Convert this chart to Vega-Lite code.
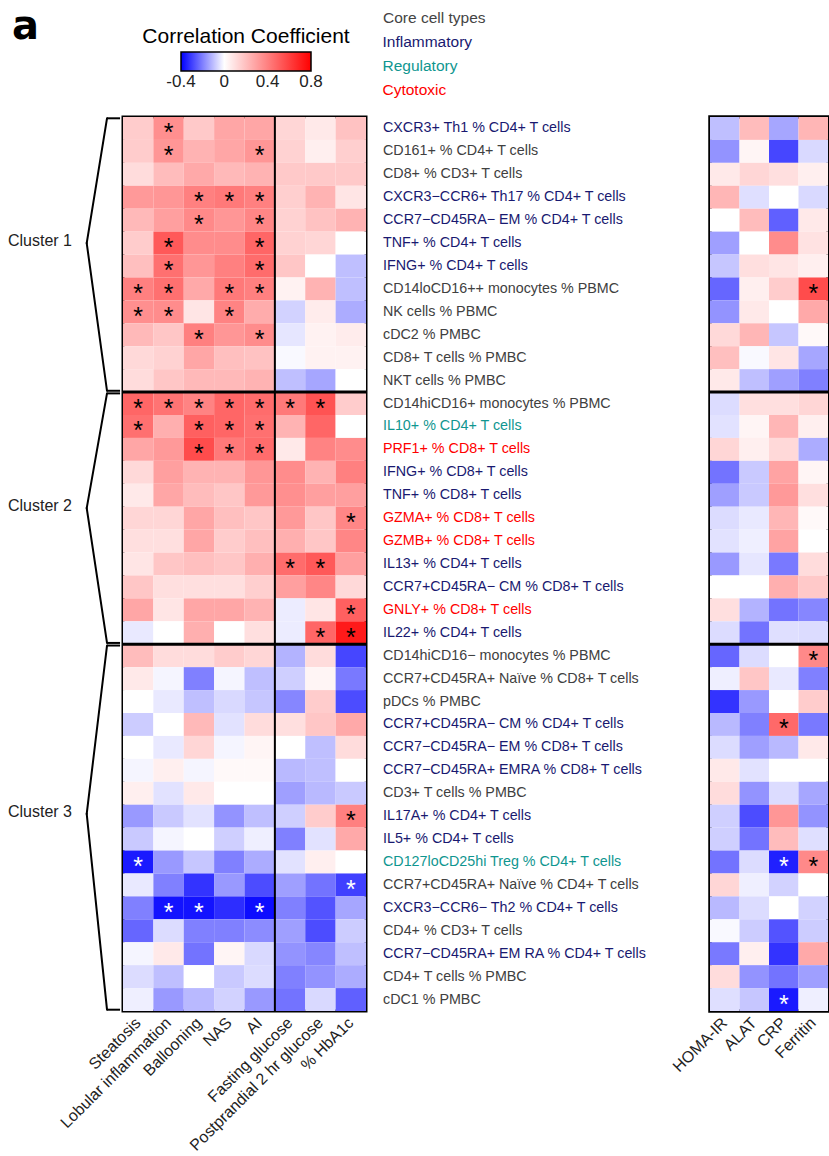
{
"$schema": "https://vega.github.io/schema/vega-lite/v6.json",
"background": "white",
"padding": {"left": 0, "top": 7, "right": 0, "bottom": 0},
"bounds": "flush",
"spacing": 0,
"config": {"font": "Liberation Sans", "view": {"stroke": null}, "legend": {"padding": 0}},
"datasets": {
"rows": [
{"i":1,"label":"CXCR3+ Th1 % CD4+ T cells","type":"Inflammatory","Steatosis":0.16,"Lobular inflammation":0.35,"Ballooning":0.17,"NAS":0.28,"AI":0.28,"Fasting glucose":0.13,"Postprandial 2 hr glucose":0.07,"% HbA1c":0.19,"HOMA-IR":-0.1,"ALAT":0.21,"CRP":-0.14,"Ferritin":0.23,"sig":["Lobular inflammation"]},
{"i":2,"label":"CD161+ % CD4+ T  cells","type":"Other","Steatosis":0.16,"Lobular inflammation":0.33,"Ballooning":0.24,"NAS":0.28,"AI":0.33,"Fasting glucose":0.14,"Postprandial 2 hr glucose":0.05,"% HbA1c":0.15,"HOMA-IR":-0.17,"ALAT":0.03,"CRP":-0.29,"Ferritin":-0.06,"sig":["Lobular inflammation","AI"]},
{"i":3,"label":"CD8+ % CD3+ T cells","type":"Other","Steatosis":0.11,"Lobular inflammation":0.21,"Ballooning":0.27,"NAS":0.22,"AI":0.24,"Fasting glucose":0.17,"Postprandial 2 hr glucose":0.17,"% HbA1c":0.17,"HOMA-IR":0.07,"ALAT":0.13,"CRP":0.1,"Ferritin":0.05,"sig":[]},
{"i":4,"label":"CXCR3−CCR6+ Th17 % CD4+ T cells","type":"Inflammatory","Steatosis":0.32,"Lobular inflammation":0.33,"Ballooning":0.4,"NAS":0.42,"AI":0.4,"Fasting glucose":0.15,"Postprandial 2 hr glucose":0.24,"% HbA1c":0.08,"HOMA-IR":0.23,"ALAT":-0.05,"CRP":0.0,"Ferritin":-0.06,"sig":["Ballooning","NAS","AI"]},
{"i":5,"label":"CCR7−CD45RA− EM % CD4+ T cells","type":"Inflammatory","Steatosis":0.22,"Lobular inflammation":0.3,"Ballooning":0.37,"NAS":0.33,"AI":0.38,"Fasting glucose":0.14,"Postprandial 2 hr glucose":0.19,"% HbA1c":0.24,"HOMA-IR":0.0,"ALAT":0.21,"CRP":-0.25,"Ferritin":0.07,"sig":["Ballooning","AI"]},
{"i":6,"label":"TNF+ % CD4+ T cells","type":"Inflammatory","Steatosis":0.16,"Lobular inflammation":0.52,"Ballooning":0.36,"NAS":0.36,"AI":0.48,"Fasting glucose":0.14,"Postprandial 2 hr glucose":0.13,"% HbA1c":0.0,"HOMA-IR":-0.15,"ALAT":0.0,"CRP":0.36,"Ferritin":0.09,"sig":["Lobular inflammation","AI"]},
{"i":7,"label":"IFNG+ % CD4+ T cells","type":"Inflammatory","Steatosis":0.2,"Lobular inflammation":0.45,"Ballooning":0.33,"NAS":0.4,"AI":0.46,"Fasting glucose":0.18,"Postprandial 2 hr glucose":0.0,"% HbA1c":-0.1,"HOMA-IR":-0.09,"ALAT":0.1,"CRP":0.08,"Ferritin":0.05,"sig":["Lobular inflammation","AI"]},
{"i":8,"label":"CD14loCD16++ monocytes % PBMC","type":"Other","Steatosis":0.4,"Lobular inflammation":0.45,"Ballooning":0.27,"NAS":0.42,"AI":0.4,"Fasting glucose":0.04,"Postprandial 2 hr glucose":0.24,"% HbA1c":-0.1,"HOMA-IR":-0.24,"ALAT":0.05,"CRP":0.16,"Ferritin":0.56,"sig":["Steatosis","Lobular inflammation","NAS","AI","Ferritin"]},
{"i":9,"label":"NK cells % PBMC","type":"Other","Steatosis":0.35,"Lobular inflammation":0.36,"Ballooning":0.08,"NAS":0.39,"AI":0.26,"Fasting glucose":-0.07,"Postprandial 2 hr glucose":0.06,"% HbA1c":-0.13,"HOMA-IR":-0.17,"ALAT":0.07,"CRP":0.0,"Ferritin":0.27,"sig":["Steatosis","Lobular inflammation","NAS"]},
{"i":10,"label":"cDC2 % PMBC","type":"Other","Steatosis":0.22,"Lobular inflammation":0.18,"Ballooning":0.4,"NAS":0.33,"AI":0.36,"Fasting glucose":-0.04,"Postprandial 2 hr glucose":0.04,"% HbA1c":0.06,"HOMA-IR":0.12,"ALAT":0.23,"CRP":-0.09,"Ferritin":0.02,"sig":["Ballooning","AI"]},
{"i":11,"label":"CD8+ T cells % PMBC","type":"Other","Steatosis":0.12,"Lobular inflammation":0.14,"Ballooning":0.28,"NAS":0.2,"AI":0.19,"Fasting glucose":-0.01,"Postprandial 2 hr glucose":0.04,"% HbA1c":0.04,"HOMA-IR":0.2,"ALAT":-0.01,"CRP":0.08,"Ferritin":-0.14,"sig":[]},
{"i":12,"label":"NKT cells % PMBC","type":"Other","Steatosis":0.11,"Lobular inflammation":0.18,"Ballooning":0.22,"NAS":0.22,"AI":0.24,"Fasting glucose":-0.1,"Postprandial 2 hr glucose":-0.14,"% HbA1c":0.0,"HOMA-IR":0.07,"ALAT":-0.1,"CRP":-0.15,"Ferritin":-0.2,"sig":[]},
{"i":13,"label":"CD14hiCD16+ monocytes % PBMC","type":"Other","Steatosis":0.48,"Lobular inflammation":0.44,"Ballooning":0.39,"NAS":0.48,"AI":0.46,"Fasting glucose":0.42,"Postprandial 2 hr glucose":0.54,"% HbA1c":0.16,"HOMA-IR":-0.055,"ALAT":0.1,"CRP":0.1,"Ferritin":0.13,"sig":["Steatosis","Lobular inflammation","Ballooning","NAS","AI","Fasting glucose","Postprandial 2 hr glucose"]},
{"i":14,"label":"IL10+ % CD4+ T cells","type":"Regulatory","Steatosis":0.45,"Lobular inflammation":0.25,"Ballooning":0.5,"NAS":0.48,"AI":0.45,"Fasting glucose":0.24,"Postprandial 2 hr glucose":0.48,"% HbA1c":0.0,"HOMA-IR":-0.045,"ALAT":0.03,"CRP":0.23,"Ferritin":0.05,"sig":["Steatosis","Ballooning","NAS","AI"]},
{"i":15,"label":"PRF1+ % CD8+ T cells","type":"Cytotoxic","Steatosis":0.28,"Lobular inflammation":0.32,"Ballooning":0.56,"NAS":0.42,"AI":0.46,"Fasting glucose":0.07,"Postprandial 2 hr glucose":0.39,"% HbA1c":0.36,"HOMA-IR":0.13,"ALAT":0.05,"CRP":0.12,"Ferritin":-0.13,"sig":["Ballooning","NAS","AI"]},
{"i":16,"label":"IFNG+ % CD8+ T cells","type":"Inflammatory","Steatosis":0.12,"Lobular inflammation":0.3,"Ballooning":0.24,"NAS":0.24,"AI":0.33,"Fasting glucose":0.36,"Postprandial 2 hr glucose":0.24,"% HbA1c":0.4,"HOMA-IR":-0.22,"ALAT":-0.085,"CRP":0.29,"Ferritin":0.03,"sig":[]},
{"i":17,"label":"TNF+ % CD8+ T cells","type":"Inflammatory","Steatosis":0.07,"Lobular inflammation":0.28,"Ballooning":0.21,"NAS":0.18,"AI":0.32,"Fasting glucose":0.35,"Postprandial 2 hr glucose":0.3,"% HbA1c":0.3,"HOMA-IR":-0.15,"ALAT":-0.085,"CRP":0.32,"Ferritin":0.1,"sig":[]},
{"i":18,"label":"GZMA+ % CD8+ T cells","type":"Cytotoxic","Steatosis":0.13,"Lobular inflammation":0.13,"Ballooning":0.28,"NAS":0.2,"AI":0.18,"Fasting glucose":0.32,"Postprandial 2 hr glucose":0.18,"% HbA1c":0.38,"HOMA-IR":-0.055,"ALAT":-0.035,"CRP":0.23,"Ferritin":0.02,"sig":["% HbA1c"]},
{"i":19,"label":"GZMB+ % CD8+ T cells","type":"Cytotoxic","Steatosis":0.1,"Lobular inflammation":0.1,"Ballooning":0.28,"NAS":0.16,"AI":0.2,"Fasting glucose":0.25,"Postprandial 2 hr glucose":0.18,"% HbA1c":0.38,"HOMA-IR":-0.045,"ALAT":-0.025,"CRP":0.29,"Ferritin":0.0,"sig":[]},
{"i":20,"label":"IL13+ % CD4+ T cells","type":"Inflammatory","Steatosis":0.08,"Lobular inflammation":0.18,"Ballooning":0.2,"NAS":0.18,"AI":0.25,"Fasting glucose":0.46,"Postprandial 2 hr glucose":0.52,"% HbA1c":0.3,"HOMA-IR":-0.16,"ALAT":-0.04,"CRP":-0.21,"Ferritin":0.11,"sig":["Fasting glucose","Postprandial 2 hr glucose"]},
{"i":21,"label":"CCR7+CD45RA− CM % CD8+ T cells","type":"Inflammatory","Steatosis":0.18,"Lobular inflammation":0.1,"Ballooning":0.1,"NAS":0.1,"AI":0.15,"Fasting glucose":0.3,"Postprandial 2 hr glucose":0.38,"% HbA1c":0.12,"HOMA-IR":0.0,"ALAT":0.0,"CRP":0.25,"Ferritin":0.17,"sig":[]},
{"i":22,"label":"GNLY+ % CD8+ T cells","type":"Cytotoxic","Steatosis":0.28,"Lobular inflammation":0.08,"Ballooning":0.28,"NAS":0.28,"AI":0.24,"Fasting glucose":-0.03,"Postprandial 2 hr glucose":0.08,"% HbA1c":0.5,"HOMA-IR":0.1,"ALAT":-0.12,"CRP":-0.22,"Ferritin":-0.19,"sig":["% HbA1c"]},
{"i":23,"label":"IL22+ % CD4+ T cells","type":"Inflammatory","Steatosis":-0.035,"Lobular inflammation":0.0,"Ballooning":0.25,"NAS":0.0,"AI":0.1,"Fasting glucose":-0.03,"Postprandial 2 hr glucose":0.48,"% HbA1c":0.72,"HOMA-IR":-0.055,"ALAT":-0.22,"CRP":-0.05,"Ferritin":-0.055,"sig":["Postprandial 2 hr glucose","% HbA1c"]},
{"i":24,"label":"CD14hiCD16− monocytes % PBMC","type":"Other","Steatosis":0.21,"Lobular inflammation":0.11,"Ballooning":0.11,"NAS":0.16,"AI":0.13,"Fasting glucose":-0.12,"Postprandial 2 hr glucose":0.11,"% HbA1c":-0.29,"HOMA-IR":-0.24,"ALAT":-0.055,"CRP":0.0,"Ferritin":0.37,"sig":["Ferritin"]},
{"i":25,"label":"CCR7+CD45RA+ Naïve % CD8+ T cells","type":"Other","Steatosis":0.07,"Lobular inflammation":-0.015,"Ballooning":-0.2,"NAS":-0.015,"AI":-0.1,"Fasting glucose":-0.075,"Postprandial 2 hr glucose":0.03,"% HbA1c":-0.21,"HOMA-IR":-0.025,"ALAT":0.18,"CRP":-0.035,"Ferritin":-0.2,"sig":[]},
{"i":26,"label":"pDCs % PMBC","type":"Other","Steatosis":0.0,"Lobular inflammation":-0.035,"Ballooning":-0.1,"NAS":-0.06,"AI":-0.09,"Fasting glucose":-0.19,"Postprandial 2 hr glucose":0.16,"% HbA1c":-0.28,"HOMA-IR":-0.32,"ALAT":-0.16,"CRP":0.0,"Ferritin":0.16,"sig":[]},
{"i":27,"label":"CCR7+CD45RA− CM % CD4+ T cells","type":"Inflammatory","Steatosis":-0.08,"Lobular inflammation":0.0,"Ballooning":0.22,"NAS":-0.045,"AI":0.11,"Fasting glucose":0.1,"Postprandial 2 hr glucose":0.18,"% HbA1c":0.27,"HOMA-IR":-0.11,"ALAT":-0.2,"CRP":0.47,"Ferritin":-0.21,"sig":["CRP"]},
{"i":28,"label":"CCR7−CD45RA− EM % CD8+ T cells","type":"Inflammatory","Steatosis":0.0,"Lobular inflammation":-0.035,"Ballooning":0.13,"NAS":-0.015,"AI":0.03,"Fasting glucose":0.0,"Postprandial 2 hr glucose":-0.1,"% HbA1c":0.11,"HOMA-IR":-0.055,"ALAT":-0.15,"CRP":-0.11,"Ferritin":0.07,"sig":[]},
{"i":29,"label":"CCR7−CD45RA+ EMRA % CD8+ T cells","type":"Inflammatory","Steatosis":-0.015,"Lobular inflammation":0.05,"Ballooning":-0.015,"NAS":0.02,"AI":0.02,"Fasting glucose":-0.11,"Postprandial 2 hr glucose":-0.1,"% HbA1c":0.0,"HOMA-IR":0.07,"ALAT":-0.045,"CRP":0.0,"Ferritin":0.0,"sig":[]},
{"i":30,"label":"CD3+ T cells % PMBC","type":"Other","Steatosis":0.05,"Lobular inflammation":-0.045,"Ballooning":0.07,"NAS":0.0,"AI":0.0,"Fasting glucose":-0.15,"Postprandial 2 hr glucose":-0.11,"% HbA1c":-0.085,"HOMA-IR":0.11,"ALAT":-0.17,"CRP":-0.055,"Ferritin":-0.14,"sig":[]},
{"i":31,"label":"IL17A+ % CD4+ T cells","type":"Inflammatory","Steatosis":-0.16,"Lobular inflammation":-0.085,"Ballooning":-0.045,"NAS":-0.17,"AI":-0.1,"Fasting glucose":-0.075,"Postprandial 2 hr glucose":0.16,"% HbA1c":0.4,"HOMA-IR":-0.075,"ALAT":-0.28,"CRP":0.33,"Ferritin":-0.17,"sig":["% HbA1c"]},
{"i":32,"label":"IL5+ % CD4+ T cells","type":"Inflammatory","Steatosis":-0.085,"Lobular inflammation":-0.015,"Ballooning":0.0,"NAS":-0.075,"AI":-0.025,"Fasting glucose":-0.2,"Postprandial 2 hr glucose":-0.045,"% HbA1c":0.27,"HOMA-IR":-0.075,"ALAT":-0.22,"CRP":0.21,"Ferritin":-0.05,"sig":[]},
{"i":33,"label":"CD127loCD25hi Treg % CD4+ T cells","type":"Regulatory","Steatosis":-0.36,"Lobular inflammation":-0.16,"Ballooning":-0.09,"NAS":-0.2,"AI":-0.13,"Fasting glucose":-0.045,"Postprandial 2 hr glucose":0.05,"% HbA1c":0.0,"HOMA-IR":-0.22,"ALAT":-0.055,"CRP":-0.35,"Ferritin":0.37,"sig":["Steatosis","CRP","Ferritin"]},
{"i":34,"label":"CCR7+CD45RA+ Naïve % CD4+ T cells","type":"Other","Steatosis":-0.035,"Lobular inflammation":-0.2,"Ballooning":-0.32,"NAS":-0.16,"AI":-0.28,"Fasting glucose":-0.15,"Postprandial 2 hr glucose":-0.22,"% HbA1c":-0.3,"HOMA-IR":0.13,"ALAT":-0.025,"CRP":-0.07,"Ferritin":0.0,"sig":["% HbA1c"]},
{"i":35,"label":"CXCR3−CCR6− Th2 % CD4+ T cells","type":"Inflammatory","Steatosis":-0.2,"Lobular inflammation":-0.37,"Ballooning":-0.37,"NAS":-0.33,"AI":-0.38,"Fasting glucose":-0.2,"Postprandial 2 hr glucose":-0.27,"% HbA1c":-0.14,"HOMA-IR":-0.11,"ALAT":-0.055,"CRP":0.0,"Ferritin":-0.07,"sig":["Lobular inflammation","Ballooning","AI"]},
{"i":36,"label":"CD4+ % CD3+ T cells","type":"Other","Steatosis":-0.24,"Lobular inflammation":-0.055,"Ballooning":-0.2,"NAS":-0.2,"AI":-0.18,"Fasting glucose":-0.15,"Postprandial 2 hr glucose":-0.28,"% HbA1c":-0.08,"HOMA-IR":-0.01,"ALAT":-0.08,"CRP":-0.27,"Ferritin":-0.08,"sig":[]},
{"i":37,"label":"CCR7−CD45RA+ EM RA % CD4+ T cells","type":"Inflammatory","Steatosis":-0.015,"Lobular inflammation":0.07,"Ballooning":-0.22,"NAS":0.03,"AI":-0.06,"Fasting glucose":-0.17,"Postprandial 2 hr glucose":-0.19,"% HbA1c":-0.1,"HOMA-IR":-0.21,"ALAT":0.05,"CRP":-0.32,"Ferritin":0.27,"sig":[]},
{"i":38,"label":"CD4+ T cells % PMBC","type":"Other","Steatosis":-0.055,"Lobular inflammation":-0.1,"Ballooning":0.0,"NAS":-0.085,"AI":-0.055,"Fasting glucose":-0.2,"Postprandial 2 hr glucose":-0.17,"% HbA1c":-0.13,"HOMA-IR":0.11,"ALAT":-0.17,"CRP":-0.22,"Ferritin":-0.15,"sig":[]},
{"i":39,"label":"cDC1 % PMBC","type":"Other","Steatosis":-0.025,"Lobular inflammation":-0.16,"Ballooning":-0.11,"NAS":-0.07,"AI":-0.16,"Fasting glucose":-0.22,"Postprandial 2 hr glucose":-0.06,"% HbA1c":-0.25,"HOMA-IR":-0.05,"ALAT":-0.09,"CRP":-0.36,"Ferritin":-0.025,"sig":["CRP"]}
],
"clusters": [
{"cluster":"Cluster 1","start":0,"end":12,"tip":5.5},
{"cluster":"Cluster 2","start":12,"end":23,"tip":17.06},
{"cluster":"Cluster 3","start":23,"end":39,"tip":30.4}
]
},
"hconcat": [
{
"width": 123, "height": 894,
"title": {"text": "a", "anchor": "start", "font": "DejaVu Sans", "fontSize": 40, "fontWeight": "bold", "offset": 70, "frame": "group", "dx": 12, "color": "black"},
"data": {"name": "clusters"},
"layer": [
{"mark": {"type": "rule", "yOffset": 1.3, "strokeWidth": 2, "color": "black"},
 "encoding": {"x": {"datum": 0.87, "type": "quantitative", "scale": {"domain": [0, 1], "nice": false, "zero": false}, "axis": null}, "x2": {"datum": 0.976}, "y": {"field": "start", "type": "quantitative", "scale": {"domain": [0, 39], "reverse": true, "nice": false, "zero": false}, "axis": null}}},
{"mark": {"type": "rule", "yOffset": -1.3, "strokeWidth": 2, "color": "black"},
 "encoding": {"x": {"datum": 0.87, "type": "quantitative"}, "x2": {"datum": 0.976}, "y": {"field": "end", "type": "quantitative"}}},
{"mark": {"type": "rule", "yOffset": 1.3, "strokeWidth": 2, "color": "black", "strokeCap": "round"},
 "encoding": {"x": {"datum": 0.87, "type": "quantitative"}, "x2": {"datum": 0.705}, "y": {"field": "start", "type": "quantitative"}, "y2": {"field": "tip"}}},
{"mark": {"type": "rule", "yOffset": -1.3, "strokeWidth": 2, "color": "black", "strokeCap": "round"},
 "encoding": {"x": {"datum": 0.87, "type": "quantitative"}, "x2": {"datum": 0.705}, "y": {"field": "end", "type": "quantitative"}, "y2": {"field": "tip"}}},
{"mark": {"type": "text", "align": "left", "baseline": "middle", "fontSize": 16, "color": "#222", "dy": -2},
 "encoding": {"x": {"datum": 0.065, "type": "quantitative"}, "y": {"field": "tip", "type": "quantitative"}, "text": {"field": "cluster"}}}
]
},
{
"width": 243, "height": 894,
"view": {"stroke": "black", "strokeWidth": 3},
"data": {"name": "rows"},
"layer": [
{"transform": [{"fold": ["Steatosis", "Lobular inflammation", "Ballooning", "NAS", "AI", "Fasting glucose", "Postprandial 2 hr glucose", "% HbA1c"], "as": ["var", "v"]}],
 "mark": {"type": "rect"},
 "encoding": {
  "x": {"field": "var", "type": "nominal", "scale": {"domain": ["Steatosis", "Lobular inflammation", "Ballooning", "NAS", "AI", "Fasting glucose", "Postprandial 2 hr glucose", "% HbA1c"]}, "axis": {"title": null, "orient": "bottom", "labelAngle": -45, "labelAlign": "right", "labelBaseline": "middle", "labelFontSize": 16, "labelColor": "#222", "labelPadding": 9, "ticks": false, "domain": false, "labelLimit": 400}},
  "y": {"field": "i", "type": "ordinal", "axis": null},
  "fill": {"field": "v", "type": "quantitative", "scale": {"type": "linear", "domain": [-0.4, 0, 0.8], "range": ["#0000ff", "#ffffff", "#ff0000"], "interpolate": "rgb"},
   "legend": {"orient": "none", "direction": "horizontal", "legendX": 19, "legendY": -91, "title": "Correlation Coefficient", "titleFontSize": 21, "titleFontWeight": "normal", "titleColor": "black", "titleAnchor": "middle", "titleLimit": 500, "titlePadding": 5, "gradientLength": 130, "gradientThickness": 19, "gradientStrokeColor": "black", "gradientStrokeWidth": 1.5, "labelFontSize": 17, "labelColor": "#222", "values": [-0.4, 0, 0.4, 0.8], "labelOffset": 3,
    "labelExpr": "datum.value < 0 ? '-' + format(-datum.value, '.1~f') : format(datum.value, '.1~f')",
    "encode": {"labels": {"update": {"align": {"value": "center"}}}}}}
 }},
{"transform": [{"fold": ["Steatosis", "Lobular inflammation", "Ballooning", "NAS", "AI", "Fasting glucose", "Postprandial 2 hr glucose", "% HbA1c"], "as": ["var", "v"]}, {"filter": "indexof(datum.sig, datum.var) >= 0"}],
 "mark": {"type": "text", "text": "*", "fontSize": 25, "baseline": "alphabetic", "dy": 13},
 "encoding": {
  "x": {"field": "var", "type": "nominal"},
  "y": {"field": "i", "type": "ordinal"},
  "color": {"condition": {"test": "datum.v < 0", "value": "white"}, "value": "black"}
 }},
{"data": {"values": [{"after": 12}, {"after": 23}]},
 "mark": {"type": "rule", "strokeWidth": 3, "color": "black"},
 "encoding": {"y": {"field": "after", "type": "ordinal", "bandPosition": 1}}},
{"data": {"values": [{"after": "AI"}]},
 "mark": {"type": "rule", "strokeWidth": 2, "color": "black"},
 "encoding": {"x": {"field": "after", "type": "nominal", "bandPosition": 1}}}
]
},
{
"width": 344, "height": 894,
"data": {"name": "rows"},
"mark": {"type": "text", "align": "left", "baseline": "middle", "fontSize": 14.3, "dx": 17},
"encoding": {
 "x": {"datum": 0, "type": "quantitative", "scale": {"domain": [0, 1]}, "axis": null},
 "y": {"field": "i", "type": "ordinal", "axis": null},
 "text": {"field": "label"},
 "color": {"field": "type", "type": "nominal",
  "scale": {"domain": ["Inflammatory", "Regulatory", "Cytotoxic", "Other"], "range": ["#191970", "#0f9690", "#ff0000", "#404040"]},
  "legend": {"orient": "none", "legendX": 17, "legendY": -106, "values": ["Inflammatory", "Regulatory", "Cytotoxic"], "title": "Core cell types", "titleFontSize": 15.5, "titleFontWeight": "normal", "titleColor": "#444", "titlePadding": 8, "labelFontSize": 15.5, "symbolSize": 0, "symbolOpacity": 0, "symbolStrokeWidth": 0, "labelOffset": 0, "rowPadding": 7,
   "encode": {"labels": {"update": {"dx": {"value": -16}, "fill": {"signal": "datum.label === 'Inflammatory' ? '#191970' : datum.label === 'Regulatory' ? '#0f9690' : '#ff0000'"}}}}}}
}
},
{
"width": 118, "height": 894,
"view": {"stroke": "black", "strokeWidth": 3.5},
"data": {"name": "rows"},
"layer": [
{"transform": [{"fold": ["HOMA-IR", "ALAT", "CRP", "Ferritin"], "as": ["var", "v"]}],
 "mark": {"type": "rect"},
 "encoding": {
  "x": {"field": "var", "type": "nominal", "scale": {"domain": ["HOMA-IR", "ALAT", "CRP", "Ferritin"]}, "axis": {"title": null, "orient": "bottom", "labelAngle": -45, "labelAlign": "right", "labelBaseline": "middle", "labelFontSize": 16, "labelColor": "#222", "labelPadding": 9, "ticks": false, "domain": false}},
  "y": {"field": "i", "type": "ordinal", "axis": null},
  "fill": {"field": "v", "type": "quantitative", "scale": {"type": "linear", "domain": [-0.4, 0, 0.8], "range": ["#0000ff", "#ffffff", "#ff0000"], "interpolate": "rgb"}, "legend": null}
 }},
{"transform": [{"fold": ["HOMA-IR", "ALAT", "CRP", "Ferritin"], "as": ["var", "v"]}, {"filter": "indexof(datum.sig, datum.var) >= 0"}],
 "mark": {"type": "text", "text": "*", "fontSize": 25, "baseline": "alphabetic", "dy": 13},
 "encoding": {
  "x": {"field": "var", "type": "nominal"},
  "y": {"field": "i", "type": "ordinal"},
  "color": {"condition": {"test": "datum.v < 0", "value": "white"}, "value": "black"}
 }},
{"data": {"values": [{"after": 12}, {"after": 23}]},
 "mark": {"type": "rule", "strokeWidth": 3, "color": "black"},
 "encoding": {"y": {"field": "after", "type": "ordinal", "bandPosition": 1}}}
]
}
],
"resolve": {"scale": {"fill": "independent", "color": "independent", "x": "independent", "y": "independent"}, "legend": {"fill": "independent", "color": "independent"}}
}
